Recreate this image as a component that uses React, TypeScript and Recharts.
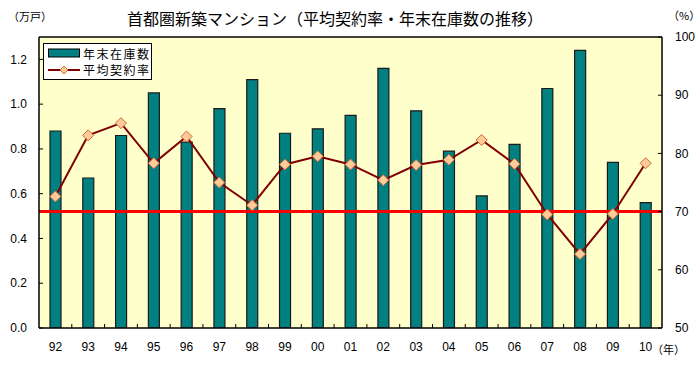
import React from 'react'
import { ComposedChart, Bar, Line, XAxis, YAxis, ReferenceLine, CartesianGrid } from 'recharts'

const years = ['92', '93', '94', '95', '96', '97', '98', '99', '00', '01', '02', '03', '04', '05', '06', '07', '08', '09', '10']
// 年末在庫数 (万戸)
const stock = [0.88, 0.67, 0.86, 1.05, 0.83, 0.98, 1.11, 0.87, 0.89, 0.95, 1.16, 0.97, 0.79, 0.59, 0.82, 1.07, 1.24, 0.74, 0.56]
// 平均契約率 (%)
const rate = [72.6, 83.1, 85.2, 78.3, 82.9, 75.0, 71.1, 78.1, 79.5, 78.1, 75.4, 78.0, 78.9, 82.3, 78.2, 69.5, 62.7, 69.6, 78.3]
const leftTicks = [0, 0.2, 0.4, 0.6, 0.8, 1.0, 1.2]
const rightTicks = [50, 60, 70, 80, 90, 100]

const data = years.map((y, i) => ({ year: y, stock: stock[i], rate: rate[i] }))

const FONT = '"Liberation Sans", Arial, "Noto Sans CJK JP", sans-serif'
const JP = '"Noto Sans CJK JP", sans-serif'

const W = 700
const H = 365
const PLOT_L = 39
const PLOT_R = 662
const BAND = (PLOT_R - PLOT_L) / years.length

if (typeof document !== 'undefined') document.body.style.margin = '0'

function Diamond(props: any) {
  const { cx, cy } = props
  if (cx == null || cy == null) return null
  const r = 5.5
  return (
    <polygon
      points={`${cx},${cy - r} ${cx + r},${cy} ${cx},${cy + r} ${cx - r},${cy}`}
      fill="#FFCC99"
      stroke="#CC6633"
      strokeWidth={1}
    />
  )
}

function XTick(props: any) {
  const { x, y, payload, index } = props
  const axisY = y - 14
  return (
    <g>
      {index < years.length - 1 && (
        <line x1={x + BAND / 2} x2={x + BAND / 2} y1={axisY} y2={axisY - 4} stroke="#000" />
      )}
      <text x={x} y={y} dy="0.71em" textAnchor="middle" fontSize={12} fill="#000" fontFamily={FONT}>
        {payload.value}
      </text>
    </g>
  )
}

function LeftTick(props: any) {
  const { x, y, payload } = props
  const axisX = x + 12
  return (
    <g>
      <line x1={axisX} x2={axisX + 4} y1={y} y2={y} stroke="#000" />
      <text x={x} y={y} dy="0.355em" textAnchor="end" fontSize={12} fill="#000" fontFamily={FONT}>
        {payload.value.toFixed(1)}
      </text>
    </g>
  )
}

function RightTick(props: any) {
  const { x, y, payload } = props
  const axisX = x - 13
  return (
    <g>
      <line x1={axisX} x2={axisX - 4} y1={y} y2={y} stroke="#000" />
      <text x={x} y={y} dy="0.355em" textAnchor="start" fontSize={12} fill="#000" fontFamily={FONT}>
        {payload.value}
      </text>
    </g>
  )
}

function LegendBox() {
  return (
    <div
      style={{
        position: 'absolute',
        left: 43,
        top: 43,
        width: 109,
        height: 37,
        border: '1.5px solid #000',
        background: '#fff',
        fontFamily: JP,
        fontSize: 12,
        letterSpacing: 1.5,
        lineHeight: '17px',
        boxSizing: 'border-box',
        padding: '1px 0 0 4px',
        whiteSpace: 'nowrap',
      }}
    >
      <div style={{ display: 'flex', alignItems: 'center', height: 16 }}>
        <svg width={32} height={10} style={{ marginRight: 3 }}>
          <rect x={0.5} y={1} width={31} height={8} fill="#008080" stroke="#000" strokeWidth={1} />
        </svg>
        <span>年末在庫数</span>
      </div>
      <div style={{ display: 'flex', alignItems: 'center', height: 17 }}>
        <svg width={32} height={10} style={{ marginRight: 3 }}>
          <line x1={0} x2={32} y1={5} y2={5} stroke="#800000" strokeWidth={2} />
          <polygon points="16,1 20,5 16,9 12,5" fill="#FFCC99" stroke="#CC6633" />
        </svg>
        <span>平均契約率</span>
      </div>
    </div>
  )
}

export default function App() {
  return (
    <div style={{ position: 'relative', width: W, height: H, background: '#fff' }}>
      <ComposedChart
        width={W}
        height={H}
        data={data}
        margin={{ top: 37, right: 0, bottom: 0, left: 0 }}
        barCategoryGap={0}
      >
        <CartesianGrid yAxisId="left" horizontal={false} vertical={false} fill="#FFFFCC" />
        <XAxis
          dataKey="year"
          height={37}
          tickSize={6}
          tickMargin={8}
          tickLine={false}
          axisLine={{ stroke: '#000', strokeWidth: 1.5 }}
          tick={<XTick />}
          interval={0}
        />
        <YAxis
          yAxisId="left"
          width={39}
          domain={[0, 1.3]}
          ticks={leftTicks}
          tickSize={6}
          tickMargin={6}
          tickLine={false}
          axisLine={{ stroke: '#000', strokeWidth: 1.5 }}
          tick={<LeftTick />}
          allowDataOverflow
        />
        <YAxis
          yAxisId="right"
          orientation="right"
          width={38}
          domain={[50, 100]}
          ticks={rightTicks}
          tickSize={6}
          tickMargin={7}
          tickLine={false}
          axisLine={{ stroke: '#000', strokeWidth: 1.5 }}
          tick={<RightTick />}
        />
        <ReferenceLine yAxisId="right" y={100} stroke="#000" strokeWidth={1.5} />
        <Bar
          yAxisId="left"
          dataKey="stock"
          name="年末在庫数"
          barSize={11}
          fill="#008080"
          stroke="#1a1a1a"
          strokeWidth={1.2}
          isAnimationActive={false}
        />
        <ReferenceLine yAxisId="right" y={70} stroke="#FF0000" strokeWidth={3} />
        <Line
          yAxisId="right"
          dataKey="rate"
          name="平均契約率"
          type="linear"
          stroke="#800000"
          strokeWidth={2}
          dot={<Diamond />}
          activeDot={false}
          isAnimationActive={false}
        />
      </ComposedChart>
      <LegendBox />
      <div
        style={{
          position: 'absolute',
          left: 127,
          top: 8,
          fontFamily: JP,
          fontSize: 16,
          lineHeight: '20px',
          color: '#000',
          whiteSpace: 'nowrap',
        }}
      >
        首都圏新築マンション（平均契約率・年末在庫数の推移）
      </div>
      <div style={{ position: 'absolute', left: 8, top: 8, fontFamily: JP, fontSize: 11, lineHeight: '16px' }}>（万戸）</div>
      <div style={{ position: 'absolute', left: 668, top: 7, fontFamily: JP, fontSize: 11, lineHeight: '16px' }}>（%）</div>
      <div style={{ position: 'absolute', left: 652, top: 341, fontFamily: JP, fontSize: 11, lineHeight: '16px' }}>（年）</div>
    </div>
  )
}
